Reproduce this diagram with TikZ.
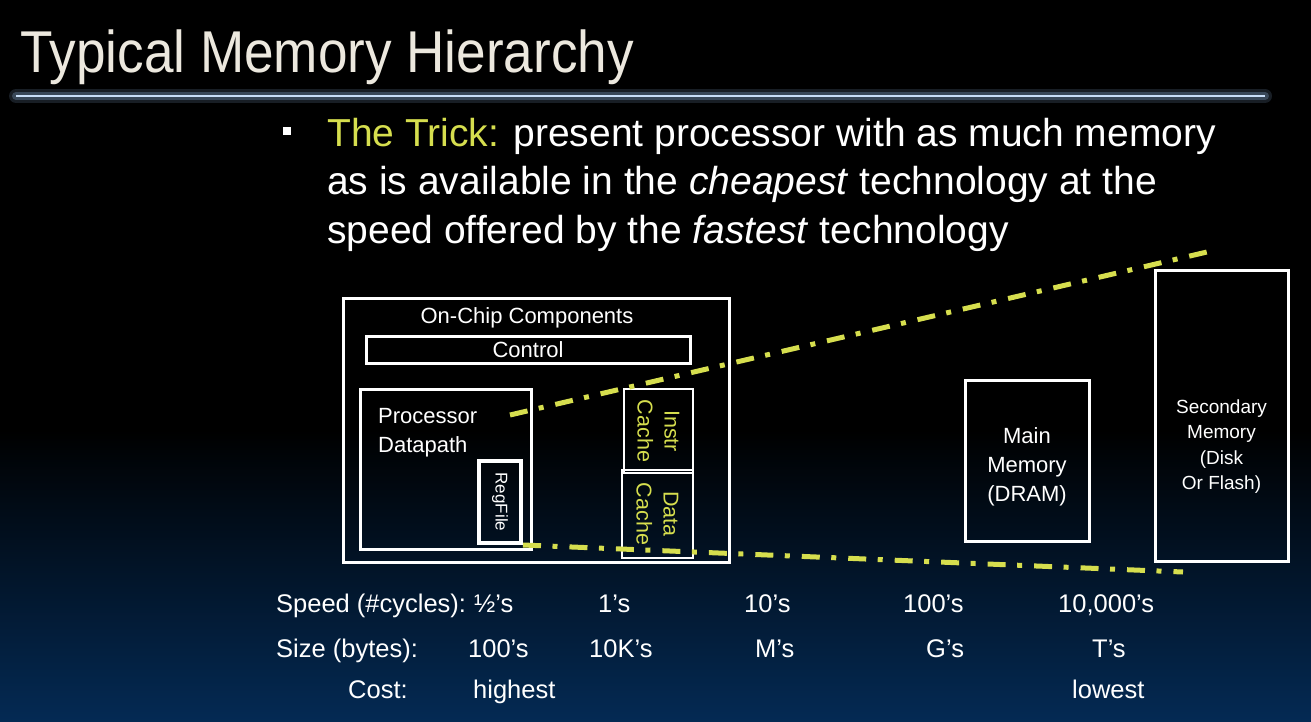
\documentclass[tikz,border=0pt]{standalone}
\usepackage{fontspec}
\setmainfont{Liberation Sans}
\newfontfamily\narrowfont[FakeStretch=0.9]{Liberation Sans}
\usetikzlibrary{positioning}
\definecolor{trickyellow}{RGB}{214,222,78}
\definecolor{titlebeige}{RGB}{236,232,222}
\definecolor{rulecore}{RGB}{200,222,248}
\definecolor{ruleglow}{RGB}{80,100,124}
\definecolor{deepblue}{RGB}{4,42,84}
\tikzset{
  box/.style={draw=white, line width=3pt, minimum width=#1, inner sep=0pt},
  thinbox/.style={draw=white, line width=1.5pt, inner sep=0pt},
  lbl/.style={text=white, inner sep=0pt, font=\fontsize{22}{29}\selectfont},
  cachelbl/.style={text=trickyellow, inner sep=0pt, align=center, rotate=-90,
    font=\fontsize{21.5}{27}\selectfont},
  rowlbl/.style={text=white, inner sep=0pt, anchor=base west,
    font=\fontsize{25.5}{30}\selectfont},
  bodytxt/.style={text=white, inner sep=0pt, anchor=base west,
    font=\fontsize{39}{48}\selectfont},
  dashdot/.style={draw=trickyellow, line width=5pt,
    dash pattern=on 18pt off 11.5pt on 5pt off 12pt}
}
\begin{document}
\begin{tikzpicture}[x=1pt, y=-1pt]
  % background: black fading into deep blue toward the bottom
  \fill[black] (0,0) rectangle (1311,722);
  \shade[top color=black, bottom color=deepblue] (0,430) rectangle (1311,722);
  \useasboundingbox (0,0) rectangle (1311,722);

  % title and glowing rule
  \node[anchor=base west, inner sep=0pt, text=titlebeige,
        font=\narrowfont\fontsize{59}{70}\selectfont] (title) at (20,73) {Typical Memory Hierarchy};
  \coordinate (ruleL) at (16,96);
  \coordinate (ruleR) at (1265,96);
  \draw[ruleglow, line width=14pt, line cap=round, opacity=0.3] (ruleL) -- (ruleR);
  \draw[ruleglow, line width=8pt, line cap=round, opacity=0.6] (ruleL) -- (ruleR);
  \draw[rulecore, line width=2.2pt] (ruleL) -- (ruleR);

  % bullet text
  \node[fill=white, minimum size=8pt, inner sep=0pt] (bullet) at (287,131) {};
  \node[bodytxt] (l1) at (327,147) {\textcolor{trickyellow}{The Trick:} present processor with as much memory};
  \node[bodytxt] (l2) at (327,195) {as is available in the \textit{cheapest} technology at the};
  \node[bodytxt] (l3) at (327,243) {speed offered by the \textit{fastest} technology};

  % on-chip components
  \node[box=386pt, minimum height=264pt] (chip) at (536,430) {};
  \node[lbl] (chiplbl) at (527,318) {On-Chip Components};
  \node[box=324pt, minimum height=27pt, lbl] (control) at (528,349.5) {Control};
  \node[box=171pt, minimum height=160pt] (proc) at (445.5,469) {};
  \node[lbl, anchor=base west, align=left] (proclbl) at (378,452) {Processor\\Datapath};
  \node[draw=white, line width=4pt, minimum width=42pt, minimum height=82pt, inner sep=0pt] (regfile) at (500,502) {};
  \node[text=white, inner sep=0pt, rotate=-90, font=\fontsize{17}{20}\selectfont] at (regfile.center) {RegFile};

  \node[thinbox, minimum width=69pt, minimum height=84pt] (icache) at (658.5,431) {};
  \node[cachelbl] at (icache.center) {Instr\\Cache};
  \node[thinbox, minimum width=71pt, minimum height=88pt] (dcache) at (657.5,514) {};
  \node[cachelbl] at (dcache.center) {Data\\Cache};

  % off-chip memories
  \node[box=124pt, minimum height=161pt] (mainmem) at (1027,460.5) {};
  \node[lbl, align=center] at ([yshift=-6pt]mainmem.center) {Main\\Memory\\(DRAM)};
  \node[box=133pt, minimum height=291pt] (secmem) at (1221.5,415.5) {};
  \node[text=white, align=center, inner sep=0pt, font=\fontsize{19}{25.5}\selectfont]
       at ([yshift=-31pt]secmem.center) {Secondary\\Memory\\(Disk\\Or Flash)};

  % widening hierarchy outline
  \coordinate (upA) at (510,415);
  \coordinate (upB) at (1207,252);
  \coordinate (loA) at (523,545);
  \coordinate (loB) at (1183,572);
  \draw[dashdot] (upA) -- (upB);
  \draw[dashdot] (loA) -- (loB);

  % speed / size / cost rows
  \node[rowlbl] (spd) at (276,612) {Speed (\#cycles):};
  \node[rowlbl] at (474,612) {½’s};
  \node[rowlbl] at (598,612) {1’s};
  \node[rowlbl] at (744,612) {10’s};
  \node[rowlbl] at (903,612) {100’s};
  \node[rowlbl] at (1058,612) {10,000’s};

  \node[rowlbl] (siz) at (276,657) {Size (bytes):};
  \node[rowlbl] at (468,657) {100’s};
  \node[rowlbl] at (589,657) {10K’s};
  \node[rowlbl] at (755,657) {M’s};
  \node[rowlbl] at (926,657) {G’s};
  \node[rowlbl] at (1092,657) {T’s};

  \node[rowlbl] (cst) at (348,698) {Cost:};
  \node[rowlbl] at (473,698) {highest};
  \node[rowlbl] at (1072,698) {lowest};
\end{tikzpicture}
\end{document}
